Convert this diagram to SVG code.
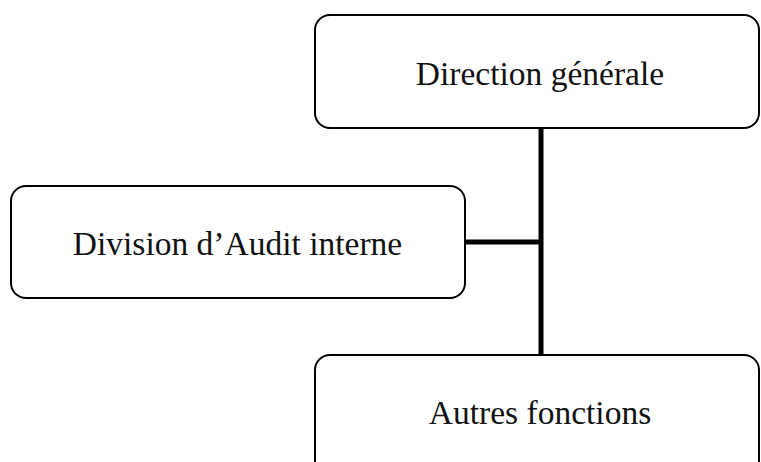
<svg xmlns="http://www.w3.org/2000/svg" width="761" height="462" viewBox="0 0 761 462">
  <style>
    .box { fill: #ffffff; stroke: #000000; stroke-width: 2; }
    .label { font-family: "Liberation Serif", "Times New Roman", serif; font-size: 33.5px; fill: #111111; text-anchor: middle; }
    .link { stroke: #000000; stroke-width: 5; fill: none; }
  </style>
  <rect width="761" height="462" fill="#ffffff"/>
  <g id="connectors">
    <line class="link" x1="541" y1="128" x2="541" y2="355"/>
    <line class="link" x1="465" y1="242" x2="541" y2="242"/>
  </g>
  <g id="direction-generale">
    <rect class="box" x="315" y="15" width="444" height="113" rx="15" ry="15"/>
    <text class="label" x="540" y="85">Direction générale</text>
  </g>
  <g id="division-audit-interne">
    <rect class="box" x="11" y="186" width="454" height="112" rx="15" ry="15"/>
    <text class="label" x="237.5" y="255">Division d’Audit interne</text>
  </g>
  <g id="autres-fonctions">
    <rect class="box" x="315" y="355" width="444" height="130" rx="15" ry="15"/>
    <text class="label" x="540" y="424">Autres fonctions</text>
  </g>
</svg>
